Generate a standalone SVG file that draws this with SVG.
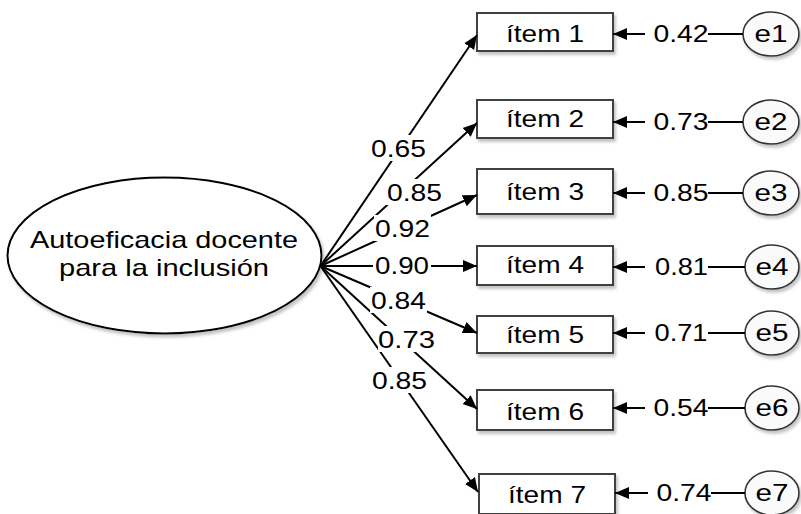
<svg xmlns="http://www.w3.org/2000/svg" width="801" height="514" viewBox="0 0 801 514">
<defs>
<marker id="ah" markerUnits="userSpaceOnUse" markerWidth="16" markerHeight="14" refX="14" refY="6.5" orient="auto"><path d="M0,0.5 L14,6.5 L0,12.5 z" fill="#000"/></marker>
<filter id="sh" x="-10%" y="-10%" width="130%" height="140%"><feDropShadow dx="2" dy="3" stdDeviation="1.5" flood-color="#888" flood-opacity="0.5"/></filter>
</defs>
<style>
.box{fill:#fff;stroke:#404040;stroke-width:2;filter:url(#sh)}
.lat{fill:#fff;stroke:#000;stroke-width:2;filter:url(#sh)}
.err{fill:#fafafa;stroke:#333;stroke-width:1.6;filter:url(#sh)}
.ln{stroke:#000;stroke-width:2;fill:none}
.ar{stroke:#000;stroke-width:2;fill:none;marker-end:url(#ah)}
.t{font-family:"Liberation Sans",Arial,sans-serif;fill:#000;text-anchor:middle}
.lbl{font-size:24px}
.it{font-size:24px}
.bg{fill:#fff}
</style>

<g id="latent">
<ellipse class="lat" cx="164.5" cy="255.5" rx="157" ry="78"/>
<text class="t" x="164" y="248" font-size="24" textLength="268" lengthAdjust="spacingAndGlyphs">Autoeficacia docente</text>
<text class="t" x="164" y="275.5" font-size="24" textLength="210" lengthAdjust="spacingAndGlyphs">para la inclusión</text>
</g>

<g id="item1"><rect class="box" x="477" y="13" width="136" height="38"/><text class="t it" x="545" y="42" textLength="78" lengthAdjust="spacingAndGlyphs">ítem 1</text></g>
<g id="item2"><rect class="box" x="477" y="100" width="136" height="38"/><text class="t it" x="545" y="127" textLength="78" lengthAdjust="spacingAndGlyphs">ítem 2</text></g>
<g id="item3"><rect class="box" x="477" y="169" width="136" height="45"/><text class="t it" x="545" y="200" textLength="78" lengthAdjust="spacingAndGlyphs">ítem 3</text></g>
<g id="item4"><rect class="box" x="477" y="246" width="136" height="39"/><text class="t it" x="545" y="273" textLength="78" lengthAdjust="spacingAndGlyphs">ítem 4</text></g>
<g id="item5"><rect class="box" x="477" y="316" width="136" height="37"/><text class="t it" x="545" y="343" textLength="78" lengthAdjust="spacingAndGlyphs">ítem 5</text></g>
<g id="item6"><rect class="box" x="477" y="390" width="136" height="40"/><text class="t it" x="545" y="420" textLength="78" lengthAdjust="spacingAndGlyphs">ítem 6</text></g>
<g id="item7"><rect class="box" x="479" y="474" width="136" height="40"/><text class="t it" x="547" y="503" textLength="78" lengthAdjust="spacingAndGlyphs">ítem 7</text></g>

<g id="e1"><ellipse class="err" cx="771" cy="34" rx="28" ry="22"/><text class="t it" x="771" y="42" textLength="33" lengthAdjust="spacingAndGlyphs">e1</text></g>
<g id="e2"><ellipse class="err" cx="771" cy="122" rx="28" ry="22"/><text class="t it" x="771" y="130" textLength="33" lengthAdjust="spacingAndGlyphs">e2</text></g>
<g id="e3"><ellipse class="err" cx="771" cy="193" rx="28" ry="22"/><text class="t it" x="771" y="201" textLength="33" lengthAdjust="spacingAndGlyphs">e3</text></g>
<g id="e4"><ellipse class="err" cx="772" cy="267" rx="27" ry="22"/><text class="t it" x="772" y="275" textLength="33" lengthAdjust="spacingAndGlyphs">e4</text></g>
<g id="e5"><ellipse class="err" cx="772" cy="333" rx="27" ry="22"/><text class="t it" x="772" y="341" textLength="33" lengthAdjust="spacingAndGlyphs">e5</text></g>
<g id="e6"><ellipse class="err" cx="772" cy="408" rx="27" ry="22"/><text class="t it" x="772" y="416" textLength="33" lengthAdjust="spacingAndGlyphs">e6</text></g>
<g id="e7"><ellipse class="err" cx="772" cy="493" rx="27" ry="22"/><text class="t it" x="772" y="501" textLength="33" lengthAdjust="spacingAndGlyphs">e7</text></g>

<g id="connectors">
<line class="ar" x1="320.5" y1="266" x2="477" y2="35"/>
<line class="ar" x1="320.5" y1="266" x2="477" y2="123"/>
<line class="ar" x1="320.5" y1="266" x2="477" y2="195"/>
<line class="ar" x1="320.5" y1="266" x2="477" y2="266"/>
<line class="ar" x1="320.5" y1="266" x2="477" y2="333"/>
<line class="ar" x1="320.5" y1="266" x2="477" y2="409"/>
<line class="ar" x1="320.5" y1="266" x2="478" y2="492"/>

<line class="ar" x1="743" y1="34" x2="613" y2="34"/>
<line class="ar" x1="743" y1="122" x2="613" y2="122"/>
<line class="ar" x1="743" y1="193" x2="613" y2="193"/>
<line class="ar" x1="745" y1="267" x2="613" y2="267"/>
<line class="ar" x1="745" y1="333" x2="613" y2="333"/>
<line class="ar" x1="745" y1="408" x2="613" y2="408"/>
<line class="ar" x1="745" y1="493" x2="615" y2="493"/>

<g id="lbl-l1"><rect class="bg" x="370" y="135" width="57" height="26"/><text class="t lbl" x="398.5" y="156.5" textLength="55" lengthAdjust="spacingAndGlyphs">0.65</text></g>
<g id="lbl-l2"><rect class="bg" x="386" y="179" width="57" height="26"/><text class="t lbl" x="414.5" y="200.5" textLength="55" lengthAdjust="spacingAndGlyphs">0.85</text></g>
<g id="lbl-l3"><rect class="bg" x="374" y="215" width="57" height="26"/><text class="t lbl" x="402.5" y="236.5" textLength="55" lengthAdjust="spacingAndGlyphs">0.92</text></g>
<g id="lbl-l4"><rect class="bg" x="373" y="253" width="58" height="26"/><text class="t lbl" x="402" y="274" textLength="54" lengthAdjust="spacingAndGlyphs">0.90</text></g>
<g id="lbl-l5"><rect class="bg" x="370" y="287" width="57" height="26"/><text class="t lbl" x="398.5" y="308.5" textLength="55" lengthAdjust="spacingAndGlyphs">0.84</text></g>
<g id="lbl-l6"><rect class="bg" x="378" y="326" width="57" height="26"/><text class="t lbl" x="406.5" y="347.5" textLength="57" lengthAdjust="spacingAndGlyphs">0.73</text></g>
<g id="lbl-l7"><rect class="bg" x="371" y="367" width="57" height="26"/><text class="t lbl" x="399.5" y="388.5" textLength="55" lengthAdjust="spacingAndGlyphs">0.85</text></g>

<g id="lbl-r1"><rect class="bg" x="645" y="21" width="63" height="26"/><text class="t lbl" x="681" y="41.5" textLength="55" lengthAdjust="spacingAndGlyphs">0.42</text></g>
<g id="lbl-r2"><rect class="bg" x="645" y="109" width="63" height="26"/><text class="t lbl" x="681" y="129.5" textLength="55" lengthAdjust="spacingAndGlyphs">0.73</text></g>
<g id="lbl-r3"><rect class="bg" x="645" y="180" width="63" height="26"/><text class="t lbl" x="681" y="200.5" textLength="55" lengthAdjust="spacingAndGlyphs">0.85</text></g>
<g id="lbl-r4"><rect class="bg" x="645" y="254" width="63" height="26"/><text class="t lbl" x="681.5" y="274.5" textLength="53" lengthAdjust="spacingAndGlyphs">0.81</text></g>
<g id="lbl-r5"><rect class="bg" x="645" y="320" width="63" height="26"/><text class="t lbl" x="681" y="340.5" textLength="53" lengthAdjust="spacingAndGlyphs">0.71</text></g>
<g id="lbl-r6"><rect class="bg" x="645" y="395" width="63" height="26"/><text class="t lbl" x="681" y="415.5" textLength="55" lengthAdjust="spacingAndGlyphs">0.54</text></g>
<g id="lbl-r7"><rect class="bg" x="648" y="480" width="63" height="26"/><text class="t lbl" x="684" y="500.5" textLength="55" lengthAdjust="spacingAndGlyphs">0.74</text></g>
</g>
</svg>
